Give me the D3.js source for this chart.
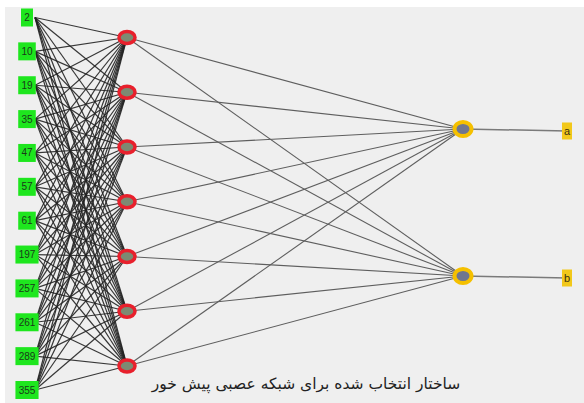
<!DOCTYPE html>
<html>
<head>
<meta charset="utf-8">
<script src="https://cdn.jsdelivr.net/npm/d3@7"></script>
<style>
  body { margin: 0; background: #fff; }
</style>
</head>
<body>
<div id="chart"></div>
<script>
// network structure
var inputs = ["2", "10", "19", "35", "47", "57", "61", "197", "257", "261", "289", "355"];
var hidden = ["h1", "h2", "h3", "h4", "h5", "h6", "h7"];
var outputs = ["a", "b"];
var caption = "ساختار انتخاب شده برای شبکه عصبی پیش خور";

function init() {
    var w = 584;
    var h = 403;

    var svg = d3.select("#chart")
        .append("svg")
        .attr("width", w)
        .attr("height", h);

    // panel background
    svg.append("rect")
        .attr("x", 5).attr("y", 7)
        .attr("width", w - 5).attr("height", h - 7)
        .attr("fill", "#efefef");

    // column positions
    var xIn = 27, xHid = 127, xOut = 463, xLab = 567;

    var yIn = d3.scalePoint().domain(inputs).range([17.5, 390]);
    var yHid = d3.scalePoint().domain(hidden).range([37.5, 366]);
    var yOut = d3.scalePoint().domain(outputs).range([129, 276]);

    // input -> hidden links
    var links1 = [];
    inputs.forEach(function(a) {
        hidden.forEach(function(b) { links1.push({ s: a, t: b }); });
    });
    svg.append("g").selectAll("line")
        .data(links1)
        .join("line")
        .attr("x1", xIn + 8)
        .attr("y1", d => yIn(d.s))
        .attr("x2", xHid)
        .attr("y2", d => yHid(d.t))
        .attr("stroke", "#222")
        .attr("stroke-opacity", 0.9)
        .attr("stroke-width", 1.2);

    // hidden -> output links
    var links2 = [];
    hidden.forEach(function(a) {
        outputs.forEach(function(b) { links2.push({ s: a, t: b }); });
    });
    svg.append("g").selectAll("line")
        .data(links2)
        .join("line")
        .attr("x1", xHid)
        .attr("y1", d => yHid(d.s))
        .attr("x2", xOut)
        .attr("y2", d => yOut(d.t))
        .attr("stroke", "#5e5e5e")
        .attr("stroke-width", 1.1);

    // output -> label links
    svg.append("g").selectAll("line")
        .data(outputs)
        .join("line")
        .attr("x1", xOut)
        .attr("y1", d => yOut(d))
        .attr("x2", xLab)
        .attr("y2", d => yOut(d) + 2)
        .attr("stroke", "#7a7a7a")
        .attr("stroke-width", 1.5);

    // input nodes
    var gin = svg.append("g").selectAll("g")
        .data(inputs)
        .join("g")
        .attr("transform", d => "translate(" + xIn + "," + yIn(d) + ")");
    gin.append("text")
        .attr("text-anchor", "middle")
        .attr("dy", "0.35em")
        .attr("font-family", "Liberation Sans, Arial, sans-serif")
        .attr("font-size", 10)
        .attr("fill", "#1a3a1a")
        .text(d => d)
        .each(function() {
            var bb = this.getBBox();
            d3.select(this.parentNode).insert("rect", "text")
                .attr("x", -bb.width / 2 - 3)
                .attr("y", -9)
                .attr("width", bb.width + 6)
                .attr("height", 18)
                .attr("fill", "#1ee61e");
        });

    // hidden nodes
    svg.append("g").selectAll("ellipse")
        .data(hidden)
        .join("ellipse")
        .attr("cx", xHid)
        .attr("cy", d => yHid(d))
        .attr("rx", 8)
        .attr("ry", 6)
        .attr("fill", "#7d8a72")
        .attr("stroke", "#e8202c")
        .attr("stroke-width", 3.5);

    // output nodes
    svg.append("g").selectAll("ellipse")
        .data(outputs)
        .join("ellipse")
        .attr("cx", xOut)
        .attr("cy", d => yOut(d))
        .attr("rx", 8.5)
        .attr("ry", 7)
        .attr("fill", "#6f7690")
        .attr("stroke", "#f5c000")
        .attr("stroke-width", 4);

    // output labels
    var gout = svg.append("g").selectAll("g")
        .data(outputs)
        .join("g")
        .attr("transform", d => "translate(" + xLab + "," + (yOut(d) + 2) + ")");
    gout.append("rect")
        .attr("x", -5).attr("y", -8.5)
        .attr("width", 10).attr("height", 17)
        .attr("fill", "#f2c81a");
    gout.append("text")
        .attr("text-anchor", "middle")
        .attr("dy", "0.35em")
        .attr("font-family", "Liberation Sans, Arial, sans-serif")
        .attr("font-size", 11)
        .attr("fill", "#3a3010")
        .text(d => d);

    // caption
    svg.append("text")
        .attr("x", 306)
        .attr("y", 389)
        .attr("text-anchor", "middle")
        .attr("font-family", "DejaVu Sans, sans-serif")
        .attr("font-size", 15.5)
        .attr("fill", "#222")
        .text(caption);
}

window.onload = init;
</script>
</body>
</html>
